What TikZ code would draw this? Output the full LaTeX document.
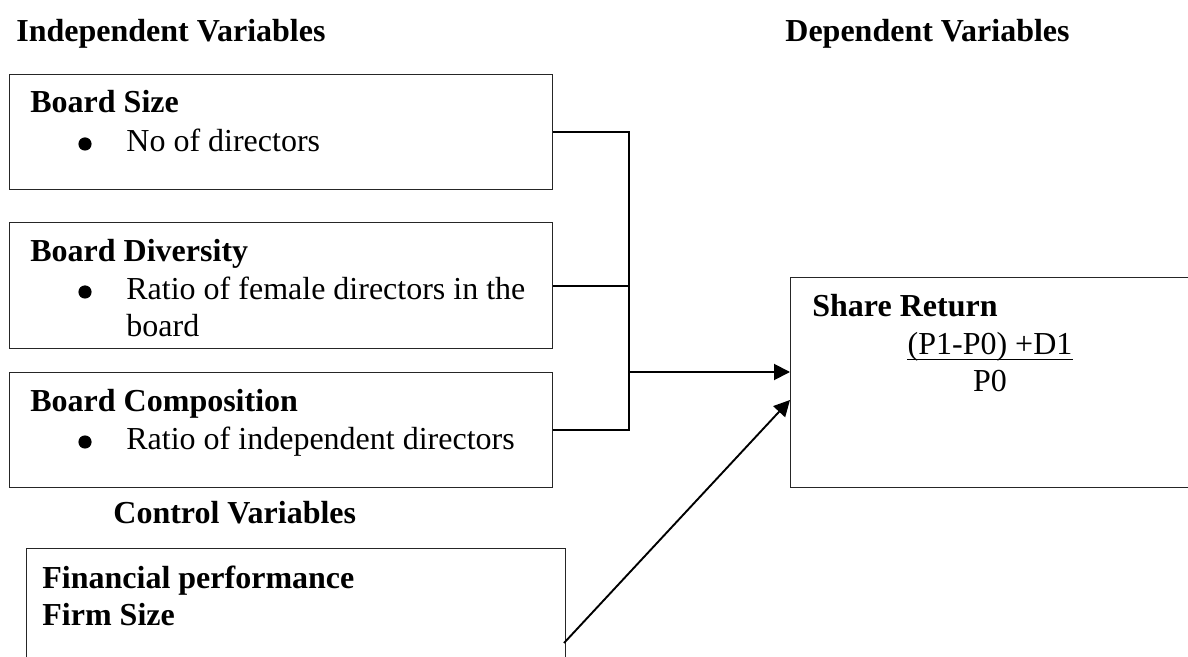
\documentclass[tikz,border=0pt]{standalone}
\usepackage{fontspec}
\setmainfont{Liberation Serif}
\usetikzlibrary{arrows.meta,calc}
\begin{document}
\begin{tikzpicture}[x=0.5pt,y=-0.5pt,
  font=\fontsize{16}{18.4}\selectfont,
  box/.style={draw=black!85, line width=0.6pt, anchor=north west, inner sep=0pt},
  conn/.style={line width=0.95pt, black},
  arr/.style={conn, -{Triangle[length=8pt,width=8pt]}},
  txt/.style={anchor=base west, inner sep=0pt},
  hd/.style={txt, font=\fontsize{16}{18.4}\selectfont\bfseries},
  ctr/.style={anchor=base, inner sep=0pt},
  bul/.style={circle, fill=black, inner sep=0pt, minimum size=6.6pt}]
\useasboundingbox (0,0) rectangle (1188,657);
\clip (0,0) rectangle (1188,657);
% headings
\node[hd] (iv) at (16,42) {Independent Variables};
\node[hd] (dv) at (785,42) {Dependent Variables};
% boxes
\node[box, minimum width=271.5pt, minimum height=57.5pt] (BS) at (9,74) {};
\node[box, minimum width=271.5pt, minimum height=63pt] (Div) at (9,222) {};
\node[box, minimum width=271.5pt, minimum height=57.5pt] (Comp) at (9,372) {};
\node[box, minimum width=269.5pt, minimum height=70pt] (Ctrl) at (26,548) {};
\node[box, minimum width=210pt, minimum height=105pt] (SR) at (790,277) {};
% box texts
\node[hd] (bst) at (30,113) {Board Size};
\node[bul] (bsb) at (85,144) {};
\node[txt] (bsi) at (126,152) {No of directors};
\node[hd] (divt) at (30,262) {Board Diversity};
\node[bul] (divb) at (85,292) {};
\node[txt] (divi) at (126,300) {Ratio of female directors in the};
\node[txt] (divj) at (126,337) {board};
\node[hd] (cot) at (30,412) {Board Composition};
\node[bul] (cob) at (85,442) {};
\node[txt] (coi) at (126,450) {Ratio of independent directors};
\node[hd] (cvt) at (113,523) {Control Variables};
\node[hd] (fp) at (42,588) {Financial performance};
\node[hd] (fs) at (42,625) {Firm Size};
\node[hd] (srt) at (812,317) {Share Return};
\node[ctr] (num) at (990,355) {(P1-P0) +D1};
\node[ctr] (den) at (990,392) {P0};
\draw[line width=0.8pt] ([yshift=-2.2pt]num.base west) -- ([yshift=-2.2pt]num.base east);
% connectors
\coordinate (J) at (629,372);
\draw[conn] (BS.east) -| (J);
\draw[conn] (Div.east) -| (J);
\draw[conn] (Comp.east) -| (J);
\draw[arr] (J) -- (J -| SR.west);
\coordinate (cs) at (564,643);
\coordinate (ct) at (790,400);
\draw[arr] (cs) -- (ct);
\end{tikzpicture}
\end{document}
